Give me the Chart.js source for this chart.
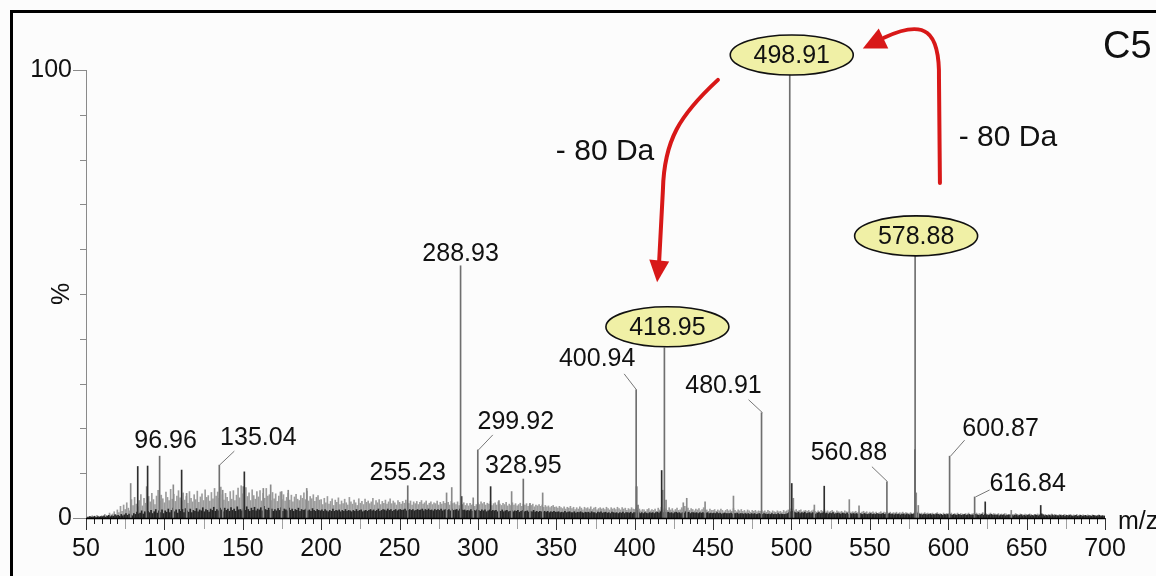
<!DOCTYPE html>
<html>
<head>
<meta charset="utf-8">
<script src="https://cdn.jsdelivr.net/npm/chart.js@4.4.1/dist/chart.umd.min.js"></script>
<style>
  html, body { margin: 0; padding: 0; background: #fcfcfc; }
  canvas { display: block; }
</style>
</head>
<body>
<canvas id="spectrum" width="1156" height="576"></canvas>
<script>
// ---------- data (m/z, relative intensity %) ----------
const peakMz  = [96.96, 135.04, 255.23, 288.93, 299.92, 328.95, 400.94, 418.95, 480.91, 498.91, 560.88, 578.88, 600.87, 616.84];
const peakInt = [13.8, 11.8, 7.2, 56.3, 15.2, 8.7, 28.6, 38.0, 23.5, 100, 8.1, 58.5, 13.8, 4.7];
const highlightedMz = [418.95, 498.91, 578.88];

// unlabeled fragment peaks
const minorGreyMz  = [78.5, 88.7, 105.7, 114.2, 137.2, 150.3, 163.1, 167.8, 174.8, 179.0, 190.8, 280.0, 283.3, 297.0, 313.4, 321.5, 333.2, 341.3, 402.2, 417.9, 420.0, 431.0, 433.2, 444.9, 463.0, 501.2, 514.6, 536.9, 543.1, 579.6, 580.9, 640.2];
const minorGreyInt = [7.7, 7.0, 7.4, 5.5, 6.2, 7.0, 6.6, 7.4, 5.9, 6.2, 6.6, 5.6, 6.8, 4.5, 3.9, 5.9, 3.3, 5.6, 2.9, 6.2, 4.0, 3.4, 4.4, 3.6, 4.9, 4.4, 2.9, 4.1, 2.7, 5.6, 2.8, 1.7];
const minorDarkMz  = [83.0, 89.3, 111.0, 151.0, 289.6, 308.1, 401.2, 417.2, 500.2, 520.9, 578.9, 623.6, 659.0];
const minorDarkInt = [11.5, 11.6, 10.7, 10.3, 4.8, 7.0, 7.0, 10.6, 7.7, 7.1, 15.3, 3.6, 2.8];

// baseline chemical noise: one value per nominal mass from 50 to 700
const noiseStartMz = 50;
const greyNoise = [
  0.3,0.2,0.4,0.3,0.5,0.3,0.2,0.6,0.4,0.3,
  0.5,0.4,0.8,0.6,0.5,1.1,0.7,0.9,1.4,0.8,
  1.8,1.2,2.6,1.5,2.9,1.9,3.4,2.2,1.6,4.1,
  2.8,4.6,3.1,2.5,3.9,5.2,2.7,4.4,3.3,2.9,
  4.8,3.6,5.5,4.1,3.0,4.9,6.2,3.8,5.1,4.3,
  3.4,5.8,4.6,3.9,6.4,4.2,5.3,3.7,4.9,6.1,
  4.5,3.8,5.6,4.0,4.8,3.3,5.9,4.4,3.6,5.2,
  4.1,6.0,3.5,4.7,5.4,3.9,6.3,4.6,5.0,3.8,
  5.7,4.3,6.6,4.9,5.8,4.4,6.9,5.2,4.0,5.5,
  4.6,3.7,5.9,4.2,6.1,3.9,5.1,6.7,4.5,7.2,
  5.4,4.1,6.8,4.8,5.6,3.9,6.3,5.0,4.2,5.9,
  4.7,6.1,3.8,5.5,4.4,6.6,4.9,5.2,3.9,5.7,
  4.3,5.4,3.7,4.9,5.8,4.1,5.2,3.8,4.6,5.5,
  4.0,5.1,3.6,4.7,5.3,4.2,3.9,5.0,4.4,5.6,
  4.1,6.0,3.8,4.8,4.3,5.2,3.7,4.6,5.0,4.0,
  4.1,3.0,4.4,3.4,4.8,3.1,3.7,4.3,2.8,4.0,
  3.5,4.5,3.0,3.8,3.2,4.2,3.4,2.9,4.6,3.6,
  3.1,4.0,3.4,2.8,4.3,3.3,3.7,3.0,4.2,3.5,
  3.8,3.2,3.6,4.4,2.9,3.9,3.4,4.1,3.0,3.7,
  3.3,4.0,3.1,3.6,4.3,3.2,3.8,3.4,2.9,3.9,
  3.5,3.1,3.7,3.3,4.0,3.4,3.2,3.8,2.9,3.6,
  3.2,3.7,3.0,3.5,3.9,3.1,3.4,3.8,2.9,3.3,
  3.6,3.0,3.4,3.2,3.8,2.9,3.5,3.1,3.7,3.3,
  3.1,3.5,2.9,3.7,3.2,3.4,3.0,3.6,2.8,3.3,
  3.0,3.4,2.8,3.2,2.7,3.3,2.9,3.1,2.6,3.0,
  3.4,3.0,3.6,3.2,3.5,2.9,3.3,3.1,3.7,2.8,
  3.2,3.4,2.9,3.6,3.1,2.8,3.3,3.0,3.5,2.7,
  3.1,2.8,3.4,2.9,3.2,2.7,3.0,3.3,2.6,3.1,
  2.9,3.2,2.6,3.0,2.8,3.1,2.5,2.9,2.7,3.0,
  2.6,2.9,2.4,2.8,2.5,2.7,2.3,2.6,2.8,2.4,
  2.5,2.2,2.6,2.3,2.1,2.5,2.0,2.4,2.2,2.6,
  2.1,2.4,1.9,2.3,2.0,2.5,2.2,1.8,2.4,2.1,
  2.3,2.0,2.5,1.9,2.2,2.4,1.8,2.1,2.3,2.0,
  2.2,1.9,2.4,2.1,1.8,2.3,2.0,2.2,1.9,2.4,
  2.1,1.8,2.3,2.0,2.2,1.7,2.1,1.9,2.3,2.0,
  1.9,2.2,1.7,2.0,1.6,1.9,1.8,1.5,1.9,2.1,
  1.6,1.9,1.7,2.0,1.5,2.2,1.8,2.4,1.8,2.1,
  2.0,1.7,2.3,1.8,2.1,1.6,1.9,2.2,1.7,1.8,
  2.3,2.0,2.6,1.8,2.2,1.7,2.1,1.9,1.6,2.0,
  1.8,2.1,1.6,1.9,2.3,1.7,1.8,1.5,2.0,1.7,
  1.7,1.9,1.5,1.8,1.6,2.0,1.7,1.4,1.7,1.9,
  1.6,1.8,1.5,2.1,1.7,1.4,1.8,1.6,1.9,1.5,
  1.7,1.4,1.8,1.6,1.3,1.7,1.5,1.7,1.4,1.6,
  1.5,1.7,1.4,1.6,1.3,1.7,1.5,1.2,1.6,1.4,
  1.3,1.6,1.4,1.5,1.2,1.7,1.4,1.6,1.8,2.0,
  2.1,1.8,1.6,1.9,1.5,1.7,1.8,1.4,1.6,1.7,
  1.5,1.7,1.4,1.6,1.8,1.5,1.3,1.6,1.4,1.7,
  1.5,1.8,1.4,1.6,1.3,1.5,1.7,1.4,1.2,1.6,
  1.4,1.3,1.5,1.2,1.6,1.4,1.3,1.5,1.2,1.4,
  1.3,1.5,1.2,1.4,1.1,1.3,1.5,1.2,1.4,1.1,
  1.3,1.2,1.4,1.1,1.3,1.0,1.2,1.4,1.1,1.3,
  1.2,1.4,1.1,1.3,1.0,1.2,1.1,1.3,1.0,1.2,
  1.1,1.3,1.0,1.2,1.1,1.0,1.2,0.9,1.1,1.5,
  1.4,1.2,1.0,1.1,0.9,1.2,1.0,1.1,0.9,1.0,
  1.1,0.9,1.0,1.2,0.9,1.0,0.8,1.1,0.9,1.0,
  1.0,0.9,1.1,0.8,1.0,0.9,1.1,0.8,1.0,0.9,
  0.8,1.0,0.9,1.1,0.8,0.9,1.0,0.8,1.1,0.9,
  1.0,0.8,1.2,0.9,1.0,0.8,0.9,1.1,0.8,1.0,
  0.9,0.8,1.0,0.7,0.9,0.8,1.0,0.9,0.7,0.8,
  0.9,0.7,0.8,1.0,0.8,0.7,0.9,0.8,0.7,0.9,
  0.8,0.7,0.9,0.8,0.6,0.8,0.7,0.9,0.8,1.0,
  0.9,0.7,0.8,0.6,0.8,0.7,0.9,0.6,0.8,0.7,
  0.6,0.8,0.7,0.6,0.8,0.7,0.6,0.7,0.8,0.6,
  0.7,0.6,0.8,0.5,0.7,0.6,0.7,0.5,0.6,0.7,
  0.6,0.5,0.7,0.6,0.5,0.6,0.7,0.5,0.6,0.5,
  0.6
];
// second noise trace, half a mass unit offset (drawn dark)
const blackNoise = [
  0.2,0.1,0.3,0.2,0.2,0.4,0.1,0.3,0.2,0.3,
  0.3,0.5,0.2,0.4,0.6,0.3,0.5,0.4,0.7,0.5,
  0.6,0.4,0.8,0.5,0.7,1.0,0.6,0.9,0.7,0.5,
  1.0,0.8,1.3,0.9,1.1,1.6,0.9,1.4,1.1,1.5,
  1.2,1.7,1.0,1.4,1.9,1.1,1.6,1.2,1.8,1.0,
  1.6,1.3,2.0,1.2,1.7,2.2,1.4,1.8,1.1,1.9,
  1.5,1.9,1.2,2.1,1.6,1.3,2.0,1.2,1.7,1.5,
  2.1,1.4,1.8,1.6,2.3,1.4,1.9,1.7,1.3,2.0,
  1.7,2.4,1.5,1.9,1.6,2.2,1.8,1.4,2.2,1.7,
  2.0,1.5,2.3,1.7,2.0,1.5,2.5,1.8,1.9,1.6,
  2.1,1.7,2.5,1.9,1.5,2.2,1.7,2.4,1.6,2.0,
  1.8,2.3,1.6,2.6,1.9,1.7,2.2,1.7,2.0,1.5,
  1.9,1.6,2.1,1.7,2.3,1.5,2.0,1.8,1.6,2.2,
  1.7,2.0,1.5,1.9,1.7,2.2,1.5,1.9,1.7,1.8,
  2.0,1.6,1.8,1.5,2.1,1.7,1.5,1.9,1.7,1.6,
  1.8,1.5,1.9,1.6,1.4,1.7,1.5,2.0,1.5,1.7,
  1.6,1.8,1.4,1.7,1.5,1.9,1.5,1.7,1.6,1.4,
  1.7,1.5,1.9,1.5,1.7,1.8,1.4,1.6,1.7,1.5,
  1.7,1.9,1.6,1.8,1.5,1.7,2.0,1.5,1.7,1.9,
  1.8,1.6,2.0,1.7,1.9,1.5,1.7,1.9,1.6,1.8,
  1.9,1.7,1.8,2.0,1.6,1.7,1.9,1.7,1.9,1.6,
  1.7,1.9,1.7,1.8,2.0,1.6,1.9,1.7,2.0,1.7,
  1.8,1.6,1.9,1.7,1.9,1.7,2.0,1.6,1.8,1.9,
  1.7,1.9,1.6,2.0,1.7,1.8,1.9,1.6,2.0,1.9,
  1.7,1.8,1.6,1.7,1.6,1.9,1.5,1.7,1.6,1.8,
  1.7,1.5,1.8,1.6,1.8,1.4,1.6,1.8,1.5,1.7,
  1.6,1.7,1.4,1.6,1.5,1.8,1.4,1.6,1.7,1.4,
  1.5,1.7,1.4,1.6,1.5,1.7,1.3,1.5,1.7,1.4,
  1.5,1.6,1.3,1.5,1.4,1.7,1.3,1.5,1.3,1.5,
  1.4,1.3,1.5,1.3,1.5,1.2,1.4,1.3,1.5,1.3,
  1.3,1.4,1.2,1.3,1.2,1.5,1.2,1.3,1.4,1.2,
  1.2,1.4,1.1,1.3,1.2,1.4,1.2,1.1,1.3,1.2,
  1.3,1.1,1.4,1.2,1.2,1.0,1.3,1.2,1.4,1.1,
  1.2,1.3,1.1,1.2,1.0,1.3,1.2,1.1,1.2,1.0,
  1.2,1.1,1.3,1.0,1.2,1.2,1.1,1.3,1.0,1.2,
  1.2,1.1,1.3,1.0,1.2,1.0,1.2,1.1,1.0,1.2,
  1.1,1.2,1.0,1.2,1.3,1.1,1.4,1.2,1.2,1.3,
  1.2,1.3,1.1,1.2,1.0,1.2,1.3,1.1,1.2,1.0,
  1.2,1.1,1.4,1.2,1.3,1.0,1.2,1.2,1.1,1.2,
  1.0,1.2,1.1,1.2,1.0,1.1,1.2,1.0,1.1,1.0,
  1.1,1.0,1.2,1.0,1.1,0.9,1.0,1.1,1.0,1.0,
  1.0,1.1,0.9,1.0,1.0,1.1,0.9,1.0,1.0,0.9,
  1.0,0.9,1.0,0.8,1.0,0.9,1.0,0.8,0.9,1.0,
  0.9,0.8,1.0,0.9,0.8,0.9,0.8,1.0,0.8,0.9,
  0.8,1.0,0.8,0.9,0.8,0.8,0.9,1.0,1.2,1.4,
  1.5,1.3,1.2,1.1,1.3,1.0,1.2,1.1,1.3,1.0,
  1.1,1.2,1.0,1.2,1.1,0.9,1.1,1.2,1.0,1.1,
  1.2,1.0,1.1,0.9,1.1,1.0,1.2,0.9,1.0,1.1,
  1.0,0.9,1.1,1.0,0.9,1.1,0.8,1.0,0.9,1.0,
  0.9,1.0,0.8,1.0,0.9,0.8,1.0,0.9,0.8,0.9,
  1.0,0.8,0.9,0.8,1.0,0.9,0.8,0.9,1.0,0.8,
  0.9,0.8,1.0,0.8,0.9,0.7,0.9,0.8,0.9,0.7,
  0.8,0.9,0.7,0.9,0.8,0.7,0.9,0.8,1.0,1.3,
  1.1,0.9,0.8,0.7,0.9,0.8,0.7,0.8,0.9,0.7,
  0.8,0.7,0.9,0.8,0.7,0.8,0.6,0.8,0.7,0.8,
  0.7,0.8,0.6,0.8,0.7,0.6,0.8,0.7,0.6,0.7,
  0.8,0.6,0.7,0.8,0.6,0.7,0.6,0.8,0.7,0.6,
  0.7,0.9,0.6,0.8,0.7,0.6,0.7,0.8,0.6,0.7,
  0.6,0.7,0.5,0.7,0.6,0.7,0.5,0.6,0.7,0.6,
  0.7,0.5,0.6,0.7,0.5,0.6,0.7,0.5,0.6,0.5,
  0.6,0.7,0.5,0.6,0.5,0.7,0.6,0.5,0.6,0.9,
  0.7,0.5,0.6,0.5,0.6,0.5,0.7,0.5,0.6,0.5,
  0.5,0.6,0.5,0.6,0.4,0.6,0.5,0.6,0.5,0.4,
  0.5,0.6,0.4,0.5,0.6,0.4,0.5,0.6,0.4,0.5,
  0.5,0.4,0.6,0.5,0.4,0.5,0.6,0.4,0.5,0.4
];

// axis ranges and labelled ticks
const mzMin = 50, mzMax = 700, mzLabelStep = 50;
const yLabelTicks = [0, 100];

// ---------- label placement (pixels relative to each peak apex) ----------
// [text dx, text dy, leader end dx, leader end dy] ; null leader = straight above
const labelPlacement = [
  [6, -16, null, null],
  [39, -28, 15, -14],
  [0, -14, null, null],
  [0, -13, null, null],
  [38, -29, 15, -15],
  [0, -14, null, null],
  [-39, -32, -12, -16],
  [3, -21, null, null],
  [-38, -28, -13, -13],
  [2, -15, null, null],
  [-38, -30, -15, -15],
  [1, -20, null, null],
  [51, -28, 15, -16],
  [53, -14, 15, -7]
];

const FONT = '"Liberation Sans", Arial, Helvetica, sans-serif';
const RED = '#d81818';

const toXY = (xs, ys) => xs.map((x, i) => ({ x: x, y: ys[i] }));

// ---------- plugins ----------
const backgroundAndFrame = {
  id: 'backgroundAndFrame',
  beforeDraw(chart) {
    const c = chart.ctx;
    c.save();
    c.fillStyle = '#fcfcfc';
    c.fillRect(0, 0, chart.width, chart.height);
    c.restore();
  },
  afterDraw(chart) {
    const c = chart.ctx;
    c.save();
    c.strokeStyle = '#000';
    c.lineWidth = 3;
    c.strokeRect(11.5, 11.5, chart.width + 20, chart.height + 20);
    c.restore();
  }
};

const spectrumAxes = {
  id: 'spectrumAxes',
  afterDatasetsDraw(chart) {
    const c = chart.ctx, xs = chart.scales.x, ys = chart.scales.y;
    const base = ys.getPixelForValue(0), left = xs.left;
    c.save();
    // vertical intensity axis
    c.strokeStyle = '#8a8a8a';
    c.lineWidth = 1;
    c.beginPath();
    c.moveTo(left + 0.5, ys.getPixelForValue(100));
    c.lineTo(left + 0.5, base);
    for (let v = 0; v <= 100; v += 10) {
      const py = Math.round(ys.getPixelForValue(v)) + 0.5;
      const len = (v === 0 || v === 100) ? 13 : 6;
      c.moveTo(left - len, py);
      c.lineTo(left, py);
    }
    c.stroke();
    // m/z ticks
    for (let m = mzMin; m <= mzMax; m += 5) {
      const px = Math.round(xs.getPixelForValue(m)) + 0.5;
      let len = 6, col = '#222';
      if (m % 50 === 0) { len = 12; col = '#333'; }
      else if (m % 25 === 0) { len = 11; col = '#a0a0a0'; }
      c.strokeStyle = col;
      c.beginPath();
      c.moveTo(px, base);
      c.lineTo(px, base + len);
      c.stroke();
    }
    // baseline
    c.strokeStyle = '#000';
    c.lineWidth = 1.6;
    c.beginPath();
    c.moveTo(left, base + 0.5);
    c.lineTo(xs.right, base + 0.5);
    c.stroke();
    c.restore();
  }
};

function drawArrowHead(c, tipX, tipY, dirX, dirY, len, half) {
  const n = Math.hypot(dirX, dirY);
  const ux = dirX / n, uy = dirY / n;
  const bx = tipX - ux * len, by = tipY - uy * len;
  c.beginPath();
  c.moveTo(tipX, tipY);
  c.lineTo(bx - uy * half, by + ux * half);
  c.lineTo(bx + uy * half, by - ux * half);
  c.closePath();
  c.fill();
}

const peakAnnotations = {
  id: 'peakAnnotations',
  afterDraw(chart) {
    const c = chart.ctx, xs = chart.scales.x, ys = chart.scales.y;
    const P = (mz, pct) => [xs.getPixelForValue(mz), ys.getPixelForValue(pct)];
    c.save();
    c.font = '25px ' + FONT;
    c.textAlign = 'center';
    c.textBaseline = 'middle';

    peakMz.forEach((mz, i) => {
      const [px, py] = P(mz, peakInt[i]);
      const [dx, dy, lx, ly] = labelPlacement[i];
      const text = mz.toFixed(2);
      const tx = px + dx, ty = py + dy;
      if (lx !== null) {
        c.strokeStyle = '#777';
        c.lineWidth = 1;
        c.beginPath();
        c.moveTo(Math.round(px) + 0.5, py);
        c.lineTo(px + lx, py + ly);
        c.stroke();
      }
      if (highlightedMz.includes(mz)) {
        c.beginPath();
        c.ellipse(tx, ty, 61.5, 20, 0, 0, Math.PI * 2);
        c.fillStyle = '#f0f0a6';
        c.fill();
        c.strokeStyle = '#111';
        c.lineWidth = 1.6;
        c.stroke();
      }
      c.fillStyle = '#111';
      c.fillText(text, tx, ty + 1);
    });

    // neutral-loss arrows
    c.strokeStyle = RED;
    c.fillStyle = RED;
    c.lineWidth = 4;
    c.lineCap = 'round';
    // 498.91 -> 418.95
    let a = P(453.1, 97.8), b1 = P(429.0, 90.0), b2 = P(418.7, 84.4), b3 = P(418.0, 73.2), e = P(415.6, 57.3);
    c.beginPath();
    c.moveTo(a[0], a[1]);
    c.bezierCurveTo(b1[0], b1[1], b2[0], b2[1], b3[0], b3[1]);
    c.lineTo(e[0], e[1]);
    c.stroke();
    let tip = P(414.3, 52.6);
    drawArrowHead(c, tip[0], tip[1], tip[0] - e[0], tip[1] - e[1], 22, 10);
    // 578.88 -> 498.91
    a = P(594.7, 74.8);
    const up = P(594.1, 98.0), k1 = P(594.7, 108.8), k2 = P(585.2, 111.5), k3 = P(559.0, 107.2);
    c.beginPath();
    c.moveTo(a[0], a[1]);
    c.lineTo(up[0], up[1]);
    c.bezierCurveTo(k1[0], k1[1], k2[0], k2[1], k3[0], k3[1]);
    c.stroke();
    tip = P(545.5, 104.8);
    drawArrowHead(c, tip[0], tip[1], tip[0] - k2[0], tip[1] - k2[1], 23, 11);

    c.fillStyle = '#111';
    c.font = '30px ' + FONT;
    let t = P(381.1, 81.7);
    c.fillText('- 80 Da', t[0], t[1]);
    t = P(638.1, 84.8);
    c.fillText('- 80 Da', t[0], t[1]);

    // axis captions
    c.textAlign = 'left';
    c.textBaseline = 'alphabetic';
    c.font = '25px ' + FONT;
    c.fillText('m/z', xs.right + 13, ys.bottom + 11);
    c.font = '38px ' + FONT;
    c.fillText('C5', 1103, 58);
    c.save();
    c.translate(xs.left - 24, ys.getPixelForValue(50));
    c.rotate(-Math.PI / 2);
    c.textAlign = 'center';
    c.textBaseline = 'middle';
    c.font = '25px ' + FONT;
    c.fillText('%', 0, 0);
    c.restore();
    c.restore();
  }
};

// ---------- chart ----------
const stick = { barThickness: 1, grouped: false, borderWidth: 0 };

new Chart(document.getElementById('spectrum'), {
  type: 'bar',
  data: {
    datasets: [
      Object.assign({ label: 'peaks', data: toXY(peakMz, peakInt), backgroundColor: '#6f6f6f', order: 0 }, stick),
      Object.assign({ label: 'minor dark', data: toXY(minorDarkMz, minorDarkInt), backgroundColor: '#2e2e2e', order: 1 }, stick),
      Object.assign({ label: 'minor grey', data: toXY(minorGreyMz, minorGreyInt), backgroundColor: '#8a8a8a', order: 2 }, stick),
      Object.assign({ label: 'noise dark', data: blackNoise.map((v, i) => ({ x: noiseStartMz + 0.5 + i, y: v })), backgroundColor: '#262626', order: 3 }, stick),
      Object.assign({ label: 'noise grey', data: greyNoise.map((v, i) => ({ x: noiseStartMz + i, y: v })), backgroundColor: '#9c9c9c', order: 4 }, stick)
    ]
  },
  options: {
    responsive: false,
    animation: false,
    devicePixelRatio: 1,
    layout: { padding: { top: 70, right: 51, left: 0, bottom: 0 } },
    plugins: { legend: { display: false }, tooltip: { enabled: false } },
    scales: {
      x: {
        type: 'linear', min: mzMin, max: mzMax, offset: false,
        grid: { display: false, drawTicks: false },
        border: { display: false },
        ticks: { stepSize: mzLabelStep, autoSkip: false, maxRotation: 0, padding: 16, color: '#111', font: { family: FONT, size: 25 } },
        afterFit(s) { s.height = 58; }
      },
      y: {
        min: 0, max: 100,
        grid: { display: false, drawTicks: false },
        border: { display: false },
        ticks: {
          stepSize: 10, autoSkip: false, padding: 14, color: '#111', font: { family: FONT, size: 25 },
          callback: v => yLabelTicks.includes(v) ? String(v) : ''
        },
        afterFit(s) { s.width = 86; }
      }
    }
  },
  plugins: [backgroundAndFrame, spectrumAxes, peakAnnotations]
});
</script>
</body>
</html>
